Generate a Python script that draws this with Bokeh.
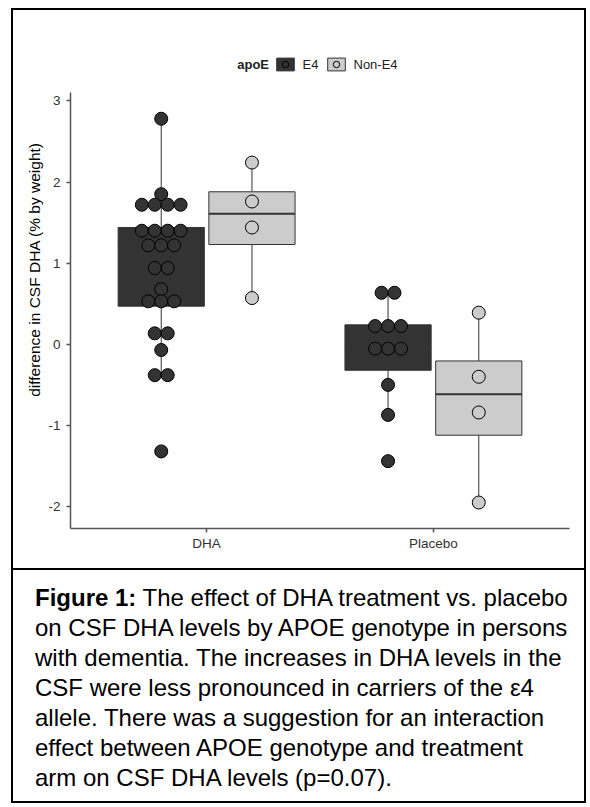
from bokeh.plotting import figure
from bokeh.models import Range1d, FixedTicker, Legend, LegendItem, Label, ColumnDataSource, Div
from bokeh.layouts import column
from bokeh.embed import file_html
from bokeh.resources import INLINE

FONT = "Liberation Sans"

# ---------------- data ----------------
arms = ["DHA", "Placebo"]
genotypes = ["E4", "Non-E4"]

# individual observations: difference in CSF DHA (% by weight)
dha_e4 = [2.78, 1.85, 1.72, 1.72, 1.72, 1.72, 1.40, 1.40, 1.40, 1.40,
          1.22, 1.22, 1.22, 0.94, 0.94, 0.68, 0.53, 0.53, 0.53,
          0.135, 0.135, -0.07, -0.38, -0.38, -1.32]
dha_non_e4 = [2.24, 1.76, 1.44, 0.57]
placebo_e4 = [0.635, 0.635, 0.225, 0.225, 0.225, -0.054, -0.054, -0.054,
              -0.50, -0.87, -1.44]
placebo_non_e4 = [0.39, -0.40, -0.84, -1.95]

# box summaries
box_arm = ["DHA", "DHA", "Placebo", "Placebo"]
box_geno = ["E4", "Non-E4", "E4", "Non-E4"]
box_low = [-0.38, 0.57, -0.87, -1.95]
box_q1 = [0.47, 1.23, -0.32, -1.12]
box_med = [1.22, 1.61, -0.05, -0.615]
box_q3 = [1.44, 1.88, 0.24, -0.205]
box_high = [2.78, 2.24, 0.635, 0.39]

y_ticks = [-2, -1, 0, 1, 2, 3]
y_tick_labels = ["-2", "-1", "0", "1", "2", "3"]
y_title = "difference in CSF DHA (% by weight)"
legend_title = "apoE"

caption_bold = "Figure 1:"
caption_lines = [
    "The effect of DHA treatment vs. placebo",
    "on CSF DHA levels by APOE genotype in persons",
    "with dementia. The increases in DHA levels in the",
    "CSF were less pronounced in carriers of the \u03b54",
    "allele. There was a suggestion for an interaction",
    "effect between APOE genotype and treatment",
    "arm on CSF DHA levels (p=0.07).",
]

points = {
    ("DHA", "E4"): dha_e4,
    ("DHA", "Non-E4"): dha_non_e4,
    ("Placebo", "E4"): placebo_e4,
    ("Placebo", "Non-E4"): placebo_non_e4,
}

# ---------------- styles ----------------
fills = {"E4": "#333333", "Non-E4": "#cccccc"}
dodge = {"E4": -0.2, "Non-E4": 0.2}
BOX_W = 0.38
DOT_STEP = 0.057
LINE = "#333333"
Y_LO, Y_AXIS_TOP, Y_FRAME_TOP = -2.27, 3.10, 4.114


def stack_offsets(vals, step):
    counts = {}
    for v in vals:
        counts[v] = counts.get(v, 0) + 1
    seen = {}
    out = []
    for v in vals:
        n = counts[v]
        i = seen.get(v, 0)
        seen[v] = i + 1
        out.append((i - (n - 1) / 2) * step)
    return out


W = 571
p = figure(width=W, height=558, x_range=Range1d(0.4, 2.6), y_range=Range1d(Y_LO, Y_FRAME_TOP),
           toolbar_location=None, output_backend="svg",
           min_border_left=57, min_border_right=15, min_border_top=0, min_border_bottom=40)
p.outline_line_color = None
p.grid.visible = False
p.border_fill_color = "white"

legend_items = []
for g in genotypes:
    idx = [i for i, bg in enumerate(box_geno) if bg == g]
    xs = [arms.index(box_arm[i]) + 1 + dodge[g] for i in idx]
    src = ColumnDataSource(dict(
        x=xs,
        x0=[x - BOX_W / 2 for x in xs],
        x1=[x + BOX_W / 2 for x in xs],
        low=[box_low[i] for i in idx],
        q1=[box_q1[i] for i in idx],
        med=[box_med[i] for i in idx],
        q3=[box_q3[i] for i in idx],
        high=[box_high[i] for i in idx],
    ))
    p.segment(x0="x", y0="q3", x1="x", y1="high", source=src, line_color=LINE, line_width=1)
    p.segment(x0="x", y0="low", x1="x", y1="q1", source=src, line_color=LINE, line_width=1)
    box = p.vbar(x="x", width=BOX_W, top="q3", bottom="q1", source=src,
                 fill_color=fills[g], line_color=LINE, line_width=1)
    p.segment(x0="x0", y0="med", x1="x1", y1="med", source=src, line_color=LINE, line_width=2)

    dx, dy = [], []
    for ai, a in enumerate(arms):
        vals = points[(a, g)]
        offs = stack_offsets(vals, DOT_STEP)
        dx += [ai + 1 + dodge[g] + o for o in offs]
        dy += vals
    dots = p.scatter(dx, dy, marker="circle", size=13, fill_color=fills[g],
                     line_color="black", line_width=1)
    legend_items.append(LegendItem(label=g, renderers=[box, dots]))

# axes
p.xaxis.ticker = FixedTicker(ticks=[1, 2])
p.xaxis.major_label_overrides = {1: arms[0], 2: arms[1]}
p.yaxis.ticker = FixedTicker(ticks=y_ticks)
p.yaxis.major_label_overrides = dict(zip(y_ticks, y_tick_labels))
p.yaxis.bounds = (Y_LO, Y_AXIS_TOP)
p.yaxis.axis_label = y_title
for ax in (p.xaxis[0], p.yaxis[0]):
    ax.axis_line_color = "#555555"
    ax.axis_line_width = 1.5
    ax.major_tick_line_color = "#555555"
    ax.major_tick_line_width = 1.5
    ax.major_tick_in = 0
    ax.major_tick_out = 4
    ax.minor_tick_line_color = None
    ax.major_label_text_font = FONT
    ax.major_label_text_font_size = "13.5px"
    ax.major_label_text_color = "#333333"
p.xaxis.major_label_standoff = 3
p.yaxis.major_label_standoff = 6
p.yaxis.axis_label_text_font = FONT
p.yaxis.axis_label_text_font_size = "15.5px"
p.yaxis.axis_label_text_font_style = "normal"
p.yaxis.axis_label_text_color = "black"
p.yaxis.axis_label_standoff = 2

legend = Legend(items=legend_items, orientation="horizontal", location=(203.5, 455.7),
                glyph_width=22, glyph_height=16, padding=0, margin=0, spacing=2,
                label_standoff=7, border_line_color=None, background_fill_alpha=0,
                label_text_font=FONT, label_text_font_size="13px", label_text_color="#222222")
p.add_layout(legend)
p.add_layout(Label(x=1.135, y=3.445, text=legend_title, text_font=FONT,
                   text_font_size="13px", text_font_style="bold", text_baseline="middle",
                   text_align="left", text_color="#222222"))

# caption
cap_html = "<b>" + caption_bold + "</b> " + "<br>".join(caption_lines)
cap = Div(text=cap_html, width=W, height=233, margin=0,
          styles={"box-sizing": "border-box", "border-top": "2px solid black",
                  "padding": "13px 0px 0px 22px", "font-family": FONT,
                  "font-size": "24px", "line-height": "30px", "color": "black",
                  "white-space": "nowrap", "background-color": "white"})

layout = column(p, cap, margin=(8, 0, 0, 11),
                styles={"border": "2px solid black", "background-color": "white"})

open("out.html", "w").write(file_html(layout, INLINE))
